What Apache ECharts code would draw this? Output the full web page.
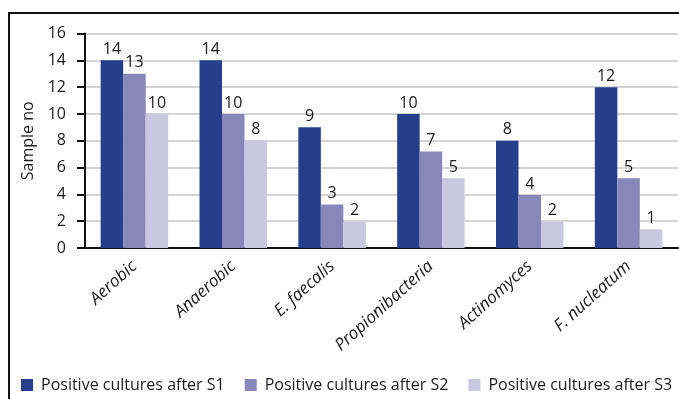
<!DOCTYPE html>
<html>
<head>
<meta charset="utf-8">
<title>Positive cultures</title>
<script src="https://cdn.jsdelivr.net/npm/echarts@6/dist/echarts.min.js"></script>
<style>
	html, body { margin: 0; padding: 0; background: #fff; }
	#main { width: 679px; height: 399px; }
</style>
</head>
<body>
<div id="main"></div>
<script>
// categories and values
let categories = ['Aerobic', 'Anaerobic', 'E. faecalis', 'Propionibacteria', 'Actinomyces', 'F. nucleatum']
let seriesNames = ['Positive cultures after S1', 'Positive cultures after S2', 'Positive cultures after S3']

// bar heights (as drawn)
let s1Values = [14, 14, 9, 10, 8, 12]
let s2Values = [13, 10, 3.25, 7.2, 3.95, 5.2]
let s3Values = [10, 8, 1.95, 5.2, 1.95, 1.4]

// numbers printed above the bars
let s1Labels = [14, 14, 9, 10, 8, 12]
let s2Labels = [13, 10, 3, 7, 4, 5]
let s3Labels = [10, 8, 2, 5, 2, 1]

let yTicks = [0, 2, 4, 6, 8, 10, 12, 14, 16]

let colors = ['#253f8c', '#8887b9', '#c9c8e0']
let fontName = 'Open Sans'

let myChart = echarts.init(document.getElementById('main'))

function makeSeries(name, values, labels, color) {
	return {
		name: name,
		type: 'bar',
		data: values,
		barWidth: 22.5,
		barGap: '0%',
		itemStyle: { color: color },
		label: {
			show: true,
			position: 'top',
			distance: 3,
			color: '#1a1a1a',
			fontSize: 16,
			fontFamily: fontName,
			formatter: function(p) {
				return labels[p.dataIndex]
			}
		}
	}
}

var option = {
	animation: false,
	textStyle: { fontFamily: fontName },
	graphic: [{
		type: 'rect',
		shape: { x: 9, y: 13, width: 720, height: 420 },
		style: { fill: 'none', stroke: '#111', lineWidth: 2 },
		silent: true,
		z: -1
	}],
	grid: {
		left: 85,
		right: 1,
		top: 33.5,
		bottom: 151
	},
	legend: {
		left: 21,
		top: 377,
		width: 700,
		padding: 0,
		itemWidth: 12,
		itemHeight: 12,
		itemGap: 20,
		icon: 'rect',
		textStyle: {
			fontSize: 16,
			color: '#1a1a1a',
			fontFamily: fontName,
			padding: [0, 0, 0, 3]
		},
		data: seriesNames
	},
	xAxis: {
		type: 'category',
		data: categories,
		axisLine: { lineStyle: { color: '#111', width: 2 } },
		axisTick: { alignWithLabel: true, length: 8, lineStyle: { color: '#111', width: 2 } },
		axisLabel: {
			rotate: 42,
			margin: 16,
			fontSize: 17,
			fontStyle: 'italic',
			color: '#1a1a1a',
			fontFamily: fontName,
			interval: 0
		}
	},
	yAxis: {
		type: 'value',
		min: yTicks[0],
		max: yTicks[yTicks.length - 1],
		interval: 2,
		name: 'Sample no',
		nameLocation: 'middle',
		nameGap: 47,
		nameTextStyle: { fontSize: 16, color: '#1a1a1a', fontFamily: fontName },
		axisLine: { show: true, lineStyle: { color: '#111', width: 2 } },
		axisTick: { show: true, length: 8, lineStyle: { color: '#111', width: 2 } },
		axisLabel: { margin: 19, fontSize: 16, color: '#1a1a1a', fontFamily: fontName },
		splitLine: { lineStyle: { color: '#d4d4d4', width: 2 } }
	},
	series: [
		makeSeries(seriesNames[0], s1Values, s1Labels, colors[0]),
		makeSeries(seriesNames[1], s2Values, s2Labels, colors[1]),
		makeSeries(seriesNames[2], s3Values, s3Labels, colors[2])
	]
}

myChart.setOption(option)
</script>
</body>
</html>
